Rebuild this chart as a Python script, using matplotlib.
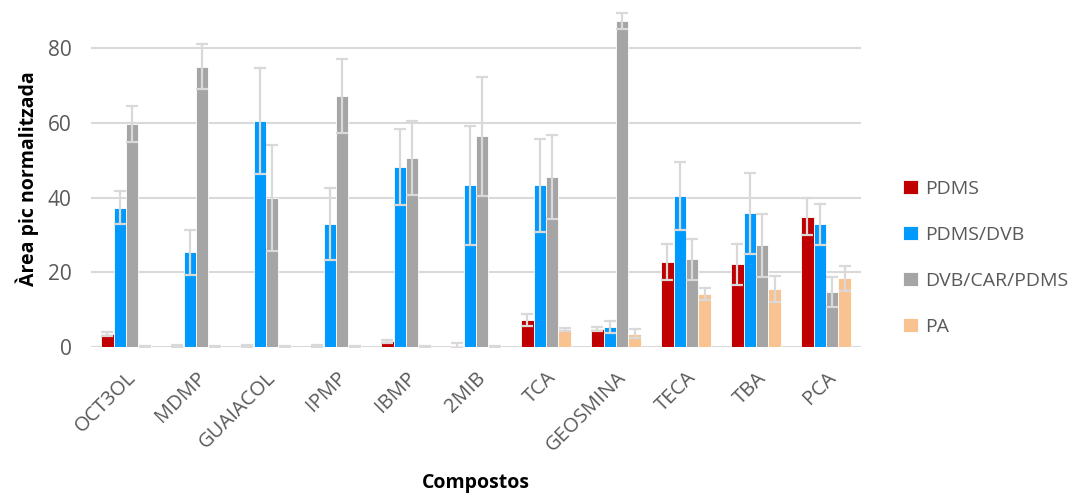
import matplotlib
matplotlib.use("Agg")
import matplotlib.pyplot as plt
import numpy as np

categories = ["OCT3OL", "MDMP", "GUAIACOL", "IPMP", "IBMP", "2MIB", "TCA",
              "GEOSMINA", "TECA", "TBA", "PCA"]
series_names = ["PDMS", "PDMS/DVB", "DVB/CAR/PDMS", "PA"]

pdms      = [3.5, 0.2, 0.2, 0.2, 1.5, 0.3, 7.2, 4.8, 22.8, 22.1, 34.9]
pdms_err  = [0.5, 0.2, 0.2, 0.2, 0.5, 0.7, 1.5, 0.6, 4.8, 5.5, 5.0]
pdmsdvb     = [37.3, 25.3, 60.6, 32.9, 48.2, 43.3, 43.3, 5.4, 40.4, 35.8, 32.8]
pdmsdvb_err = [4.5, 6.1, 14.2, 9.7, 10.2, 16.0, 12.4, 1.6, 9.0, 10.8, 5.6]
dcp       = [59.7, 75.1, 39.9, 67.2, 50.7, 56.4, 45.6, 87.3, 23.5, 27.2, 14.7]
dcp_err   = [4.7, 6.1, 14.2, 9.8, 9.9, 16.0, 11.2, 2.2, 5.5, 8.4, 4.1]
pa        = [0.2, 0.2, 0.2, 0.2, 0.1, 0.2, 4.7, 3.5, 14.2, 15.6, 18.4]
pa_err    = [0.1, 0.1, 0.1, 0.1, 0.1, 0.1, 0.5, 1.2, 1.5, 3.5, 3.3]

values = [pdms, pdmsdvb, dcp, pa]
errors = [pdms_err, pdmsdvb_err, dcp_err, pa_err]
colors = ["#C00000", "#009AFF", "#A5A5A5", "#F9C291"]

plt.rcParams['font.family'] = ['Open Sans', 'DejaVu Sans']

fig = plt.figure(figsize=(10.83, 4.94), dpi=100)
ax = fig.add_axes([0.084, 0.2976, 0.711, 0.6804])

x = np.arange(len(categories))
bw = 0.178
for i, (vals, errs, c, name) in enumerate(zip(values, errors, colors, series_names)):
    pos = x + (i - 1.5) * bw
    ax.bar(pos, vals, width=bw, color=c, edgecolor="white", linewidth=0.6,
           label=name, zorder=2)
    ax.errorbar(pos, vals, yerr=errs, fmt="none", ecolor="#D9D9D9",
                elinewidth=1.6, capsize=4.5, capthick=1.6, zorder=3)

ax.set_xlim(-0.5, len(categories) - 0.5)
ax.set_ylim(0, 90)
ax.set_yticks([0, 20, 40, 60, 80])
ax.yaxis.grid(True, color="#D9D9D9", linewidth=1.5)
ax.set_axisbelow(True)
for s in ax.spines.values():
    s.set_visible(False)
ax.tick_params(axis="both", length=0, colors="#595959")
ax.tick_params(axis="y", pad=14, labelsize=15)
ax.tick_params(axis="x", pad=15, labelsize=14.5)
ax.set_xticks(x)
ax.set_xticklabels(categories, rotation=45, ha="right", rotation_mode="anchor")

ax.set_ylabel("Àrea pic normalitzada", fontsize=14, fontweight="bold",
              color="black", labelpad=6)
fig.text(0.439, 0.003, "Compostos", fontsize=14, fontweight="bold",
         ha="center", va="bottom")

leg = fig.legend(loc="upper left", bbox_to_anchor=(0.818, 0.672), frameon=False,
                 fontsize=14, handlelength=0.75, handleheight=0.75,
                 handletextpad=0.35, labelspacing=1.45, labelcolor="#595959")

fig.savefig("out.png", dpi=100)
